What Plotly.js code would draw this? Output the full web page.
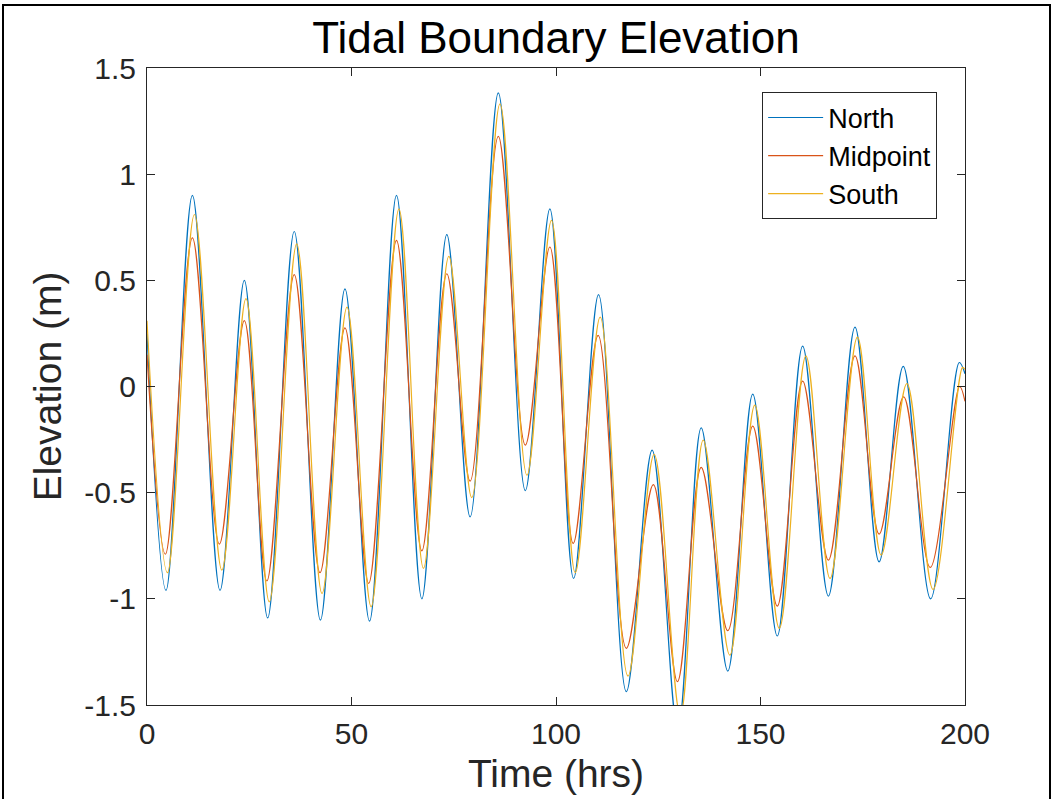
<!DOCTYPE html>
<html>
<head>
<meta charset="utf-8">
<script src="https://cdn.plot.ly/plotly-3.0.1.min.js"></script>
<style>
  html, body { margin: 0; padding: 0; background: #fff; }
  #wrap { position: relative; width: 1054px; height: 799px; overflow: hidden; }
  #chart { width: 1054px; height: 799px; }
  #frame { position: absolute; left: 2px; top: 4px; width: 1045px; height: 900px;
           border: 2px solid #000; pointer-events: none; }
</style>
</head>
<body>
<div id="wrap">
  <div id="chart"></div>
  <div id="frame"></div>
</div>
<script>
// Extrema (time in hrs, elevation in m)
const northTime = [0, 4.65, 11.1, 17.85, 23.8, 29.5, 36.0, 42.4, 48.4, 54.4, 61.0, 67.2, 73.3, 79.0, 85.9, 92.5, 98.5, 104.3, 110.4, 117.2, 123.5, 129.8, 135.5, 142.0, 148.1, 154.1, 160.3, 166.6, 173.1, 179.0, 184.9, 191.6, 198.6, 200];
const northElev = [0.25, -0.96, 0.90, -0.96, 0.50, -1.09, 0.73, -1.10, 0.46, -1.105, 0.90, -1.00, 0.715, -0.614, 1.383, -0.49, 0.837, -0.904, 0.433, -1.437, -0.30, -1.62, -0.195, -1.34, -0.036, -1.175, 0.19, -0.987, 0.28, -0.826, 0.095, -1.00, 0.113, 0.06];

const midTime = [0, 4.5, 11.1, 17.7, 23.8, 29.3, 36.0, 42.3, 48.4, 54.2, 61.0, 67.2, 73.3, 79.0, 85.9, 92.5, 98.5, 104.2, 110.3, 117.2, 123.8, 129.7, 135.5, 142.0, 148.1, 154.1, 160.3, 166.6, 173.1, 179.0, 185.0, 191.5, 198.7, 200];
const midElev = [0.15, -0.79, 0.70, -0.742, 0.31, -0.916, 0.527, -0.877, 0.276, -0.927, 0.688, -0.774, 0.531, -0.446, 1.178, -0.276, 0.657, -0.739, 0.241, -1.233, -0.462, -1.39, -0.381, -1.15, -0.187, -1.034, 0.025, -0.818, 0.144, -0.695, -0.049, -0.852, 0.0, -0.07];

const southTime = [0, 5.0, 11.6, 18.3, 24.2, 29.9, 36.6, 42.8, 48.9, 54.8, 61.6, 67.6, 73.8, 79.4, 86.3, 92.9, 98.9, 104.7, 110.8, 117.6, 124.0, 130.4, 136.0, 142.5, 148.6, 154.6, 161.1, 167.0, 173.7, 179.5, 185.8, 192.2, 199.4, 200];
const southElev = [0.31, -0.877, 0.81, -0.865, 0.414, -1.014, 0.672, -0.975, 0.374, -1.037, 0.837, -0.857, 0.613, -0.523, 1.331, -0.418, 0.782, -0.877, 0.327, -1.364, -0.319, -1.55, -0.253, -1.265, -0.088, -1.139, 0.144, -0.904, 0.233, -0.794, 0.014, -0.956, 0.09, 0.08];

const xTicks = [0, 50, 100, 150, 200];
const yTicks = [-1.5, -1, -0.5, 0, 0.5, 1, 1.5];
const yTickText = ['-1.5', '-1', '-0.5', '0', '0.5', '1', '1.5'];

const FONT = 'Liberation Sans, Arial, Helvetica, sans-serif';
const AX = '#262626';

function series(name, x, y, color) {
  return { type: 'scatter', mode: 'lines', name: name, x: x, y: y,
           line: { color: color, width: 1.2, shape: 'spline', smoothing: 1.0 },
           hoverinfo: 'skip' };
}

const data = [
  series('North', northTime, northElev, '#0072BD'),
  series('Midpoint', midTime, midElev, '#D95319'),
  series('South', southTime, southElev, '#EDB120')
];

const layout = {
  width: 1054, height: 799,
  margin: { l: 147, r: 89, t: 67.5, b: 94, pad: 0 },
  paper_bgcolor: '#fff', plot_bgcolor: '#fff',
  font: { family: FONT, color: '#000' },
  showlegend: true,
  title: { text: 'Tidal Boundary Elevation', font: { family: FONT, size: 44, color: '#000' },
           x: 0.5, xref: 'paper', xanchor: 'center', y: 1 - 38 / 799, yref: 'container', yanchor: 'middle' },
  xaxis: {
    range: [0, 200], tickvals: xTicks, ticktext: xTicks.map(String),
    ticks: 'inside', ticklen: 8, tickwidth: 1, tickcolor: AX,
    showline: true, linecolor: AX, linewidth: 1, mirror: 'ticks',
    showgrid: false, zeroline: false,
    tickfont: { family: FONT, size: 30, color: '#262626' },
    ticklabelstandoff: 2,
    title: { text: 'Time (hrs)', font: { family: FONT, size: 39, color: '#262626' }, standoff: 10 },
    automargin: false
  },
  yaxis: {
    range: [-1.5, 1.5], tickvals: yTicks, ticktext: yTickText,
    ticks: 'inside', ticklen: 8, tickwidth: 1, tickcolor: AX,
    showline: true, linecolor: AX, linewidth: 1, mirror: 'ticks',
    showgrid: false, zeroline: false,
    tickfont: { family: FONT, size: 30, color: '#262626' },
    ticklabelstandoff: 4,
    title: { text: 'Elevation (m)', font: { family: FONT, size: 39, color: '#262626' }, standoff: 10 },
    automargin: false
  },
  legend: {
    x: 0.752, y: 0.9616, xanchor: 'left', yanchor: 'top',
    bgcolor: '#fff', bordercolor: AX, borderwidth: 1,
    font: { family: FONT, size: 27, color: '#000' },
    itemwidth: 55, tracegroupgap: 0
  }
};

Plotly.newPlot('chart', data, layout, { displayModeBar: false, staticPlot: true });
</script>
</body>
</html>
